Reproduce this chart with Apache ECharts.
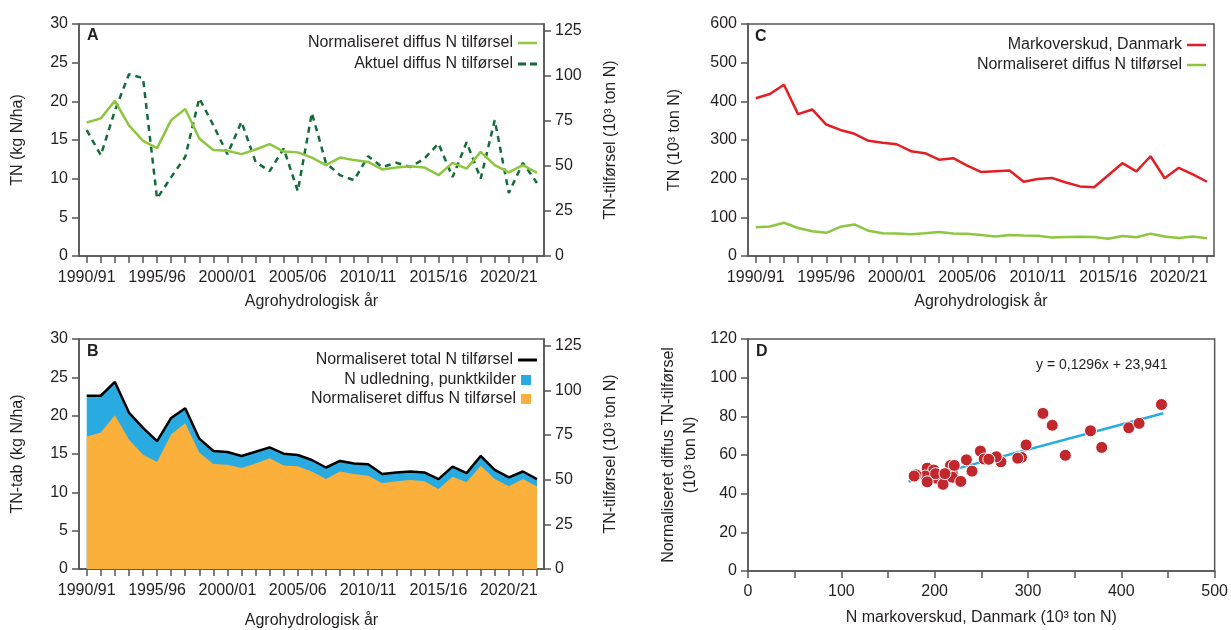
<!DOCTYPE html>
<html><head><meta charset="utf-8">
<script src="https://cdn.jsdelivr.net/npm/echarts@6/dist/echarts.min.js"></script>
<style>html,body{margin:0;padding:0;background:#fff}#c{width:1231px;height:630px}</style>
</head><body><div id="c"></div>
<script>
// ---------- data ----------
const categories = ['1990/91','1991/92','1992/93','1993/94','1994/95','1995/96','1996/97','1997/98','1998/99','1999/00',
  '2000/01','2001/02','2002/03','2003/04','2004/05','2005/06','2006/07','2007/08','2008/09','2009/10',
  '2010/11','2011/12','2012/13','2013/14','2014/15','2015/16','2016/17','2017/18','2018/19','2019/20',
  '2020/21','2021/22','2022/23'];
const yearLabelIdx = [0,5,10,15,20,25,30];
// Normaliseret diffus N tilførsel (kg N/ha)
const diffuseNorm = [17.27,17.8,20.07,16.9,14.9,13.95,17.57,19.0,15.2,13.7,13.6,13.17,13.77,14.46,13.5,13.4,12.73,11.74,12.73,12.4,
  12.17,11.19,11.45,11.6,11.45,10.45,12.04,11.3,13.47,11.74,10.8,11.74,10.75];
// Aktuel diffus N tilførsel (kg N/ha)
const diffuseActual = [16.27,13.04,18.8,23.5,23.0,7.43,10.2,12.8,20.4,16.9,13.17,17.35,12.17,10.97,13.9,8.38,18.5,12.04,10.45,9.8,
  12.9,11.5,12.05,11.5,12.6,14.55,10.2,14.7,10.0,17.57,8.16,12.04,9.45];
// Normaliseret total N tilførsel (kg N/ha)
const totalN = [22.6,22.6,24.4,20.4,18.4,16.67,19.7,20.97,17.0,15.4,15.26,14.74,15.3,15.86,15.04,14.87,14.22,13.24,14.1,13.75,
  13.67,12.38,12.6,12.72,12.6,11.73,13.36,12.5,14.74,12.94,11.95,12.72,11.73];
// Markoverskud, Danmark (10^3 ton N)
const surplus = [408,419,443,367,379,340,326,316,298,293,289,271,266,249,253,234,217,219,221,192,
  199,202,190,180,178,209,240,219,258,201,228,211,192];
const AREA = 4.29; // kg N/ha -> 10^3 ton N
const rightTicks = [0,25,50,75,100,125];
const trendSlope = 0.1296, trendIntercept = 23.941, trendX = [172, 445];
const trendText = 'y = 0,1296x + 23,941';

// ---------- style ----------
const FF = 'Liberation Sans, Arial, sans-serif';
const TXT = '#231F20';
const AX = '#555555';
const ZW = '\u200B';
const DASH_ICON = 'path://M0,0h8v1h-8z M12,0h7v1h-7z';

const chart = echarts.init(document.getElementById('c'));
const idx = categories.map((_, i) => i);
const pairs = arr => arr.map((v, i) => [i, v]);

function catX(grid, nameGap) {
  return {
    type: 'value', gridIndex: grid, min: -0.55, max: 32.5,
    axisLine: {show: true, onZero: false, lineStyle: {color: AX, width: 1.5}},
    axisTick: {show: true, customValues: idx, length: 7, lineStyle: {color: AX, width: 1.5}},
    axisLabel: {customValues: yearLabelIdx, formatter: v => categories[Math.round(v)], fontSize: 16, color: TXT, fontFamily: FF, margin: 14},
    splitLine: {show: false},
    name: 'Agrohydrologisk år', nameLocation: 'middle', nameGap: nameGap,
    nameTextStyle: {fontSize: 16, color: TXT, fontFamily: FF}
  };
}
function yAx(grid, min, max, interval, name, gap, pos, custom) {
  const o = {
    type: 'value', gridIndex: grid, min: min, max: max, position: pos || 'left',
    axisLine: {show: true, onZero: false, lineStyle: {color: AX, width: 1.5}},
    axisTick: {show: true, length: 7, lineStyle: {color: AX, width: 1.5}},
    axisLabel: {fontSize: 16, color: TXT, fontFamily: FF, margin: 11},
    splitLine: {show: false},
    name: name, nameLocation: 'middle', nameGap: gap, nameRotate: 90,
    nameTextStyle: {fontSize: 16, color: TXT, fontFamily: FF, lineHeight: 22}
  };
  if (custom) { o.axisTick.customValues = custom; o.axisLabel.customValues = custom; }
  else o.interval = interval;
  return o;
}
function lg(name, right, cy, icon, w, h) {
  return {
    data: [{name: name, icon: icon}], orient: 'vertical', align: 'right', right: right, top: cy - 8,
    itemWidth: w, itemHeight: h, symbolKeepAspect: false, selectedMode: false,
    formatter: n => n.replace(/\u200B/g, ''),
    textStyle: {fontSize: 16, color: TXT, fontFamily: FF}
  };
}

const gridBox = {show: true, borderColor: AX, borderWidth: 1.5, containLabel: false};

const option = {
  backgroundColor: '#fff',
  animation: false,
  grid: [
    Object.assign({left: 79, top: 24, width: 465, height: 232}, gridBox),
    Object.assign({left: 79, top: 339, width: 465, height: 232}, gridBox),
    Object.assign({left: 748, top: 24, width: 466, height: 232}, gridBox),
    Object.assign({left: 748, top: 339, width: 467, height: 232}, gridBox)
  ],
  xAxis: [
    catX(0, 38), catX(1, 44), catX(2, 38),
    {
      type: 'value', gridIndex: 3, min: 0, max: 500, interval: 100,
      axisLine: {show: true, onZero: false, lineStyle: {color: AX, width: 1.5}},
      axisTick: {show: true, customValues: [0,50,100,150,200,250,300,350,400,450,500], length: 7, lineStyle: {color: AX, width: 1.5}},
      axisLabel: {fontSize: 16, color: TXT, fontFamily: FF, margin: 13},
      splitLine: {show: false},
      name: 'N markoverskud, Danmark (10³ ton N)', nameLocation: 'middle', nameGap: 39,
      nameTextStyle: {fontSize: 16, color: TXT, fontFamily: FF}
    }
  ],
  yAxis: [
    yAx(0, 0, 30, 5, 'TN (kg N/ha)', 50),
    yAx(0, 0, 30 * AREA, null, 'TN-tilførsel (10³ ton N)', 56, 'right', rightTicks),
    yAx(1, 0, 30, 5, 'TN-tab (kg N/ha)', 50),
    yAx(1, 0, 30 * AREA, null, 'TN-tilførsel (10³ ton N)', 56, 'right', rightTicks),
    yAx(2, 0, 600, 100, 'TN (10³ ton N)', 62),
    yAx(3, 0, 120, 20, 'Normaliseret diffus TN-tilførsel\n(10³ ton N)', 46)
  ],
  legend: [
    lg('Normaliseret diffus N tilførsel', 689, 38, 'rect', 19, 2.5),
    lg('Aktuel diffus N tilførsel', 689, 59, DASH_ICON, 19, 3),
    lg('Normaliseret total N tilførsel', 689, 355, 'rect', 19, 3),
    lg('N udledning, punktkilder', 695, 375, 'rect', 10, 10),
    lg('Normaliseret diffus N tilførsel' + ZW, 695, 394, 'rect', 10, 10),
    lg('Markoverskud, Danmark', 20, 40, 'rect', 19, 2.5),
    lg('Normaliseret diffus N tilførsel' + ZW + ZW, 20, 60, 'rect', 19, 2.5)
  ],
  graphic: [
    {type: 'text', left: 87, top: 28, style: {text: 'A', font: 'bold 16px ' + FF, fill: TXT}},
    {type: 'text', left: 87, top: 344, style: {text: 'B', font: 'bold 16px ' + FF, fill: TXT}},
    {type: 'text', left: 755, top: 29, style: {text: 'C', font: 'bold 16px ' + FF, fill: TXT}},
    {type: 'text', left: 756, top: 344, style: {text: 'D', font: 'bold 16px ' + FF, fill: TXT}},
    {type: 'text', left: 1036, top: 358, style: {text: trendText, font: '14px ' + FF, fill: TXT}}
  ],
  series: [
    // A
    {name: 'Aktuel diffus N tilførsel', type: 'line', xAxisIndex: 0, yAxisIndex: 0, data: pairs(diffuseActual),
     symbol: 'none', color: '#146B3A', lineStyle: {color: '#146B3A', width: 2.5, type: [6, 5]}},
    {name: 'Normaliseret diffus N tilførsel', type: 'line', xAxisIndex: 0, yAxisIndex: 0, data: pairs(diffuseNorm),
     symbol: 'none', color: '#8DC63F', lineStyle: {color: '#8DC63F', width: 2.5}},
    // B
    {name: 'N udledning, punktkilder', type: 'line', xAxisIndex: 1, yAxisIndex: 2, data: pairs(totalN),
     symbol: 'none', color: '#29ABE2', lineStyle: {width: 0}, areaStyle: {color: '#29ABE2', opacity: 1}},
    {name: 'Normaliseret diffus N tilførsel' + ZW, type: 'line', xAxisIndex: 1, yAxisIndex: 2, data: pairs(diffuseNorm),
     symbol: 'none', color: '#FBB03B', lineStyle: {width: 0}, areaStyle: {color: '#FBB03B', opacity: 1}},
    {name: 'Normaliseret total N tilførsel', type: 'line', xAxisIndex: 1, yAxisIndex: 2, data: pairs(totalN),
     symbol: 'none', color: '#000', lineStyle: {color: '#000', width: 2.5}},
    // C
    {name: 'Markoverskud, Danmark', type: 'line', xAxisIndex: 2, yAxisIndex: 4, data: pairs(surplus),
     symbol: 'none', color: '#E31E24', lineStyle: {color: '#E31E24', width: 2.5}},
    {name: 'Normaliseret diffus N tilførsel' + ZW + ZW, type: 'line', xAxisIndex: 2, yAxisIndex: 4,
     data: diffuseNorm.map((v, i) => [i, v * AREA]),
     symbol: 'none', color: '#8DC63F', lineStyle: {color: '#8DC63F', width: 2.5}},
    // D
    {name: 'trend', type: 'line', xAxisIndex: 3, yAxisIndex: 5,
     data: trendX.map(x => [x, trendSlope * x + trendIntercept]),
     symbol: 'none', color: '#29ABE2', lineStyle: {color: '#29ABE2', width: 2.5}, z: 2},
    {name: 'scatter', type: 'scatter', xAxisIndex: 3, yAxisIndex: 5,
     data: surplus.map((s, i) => [s, diffuseNorm[i] * AREA]),
     symbolSize: 12, itemStyle: {color: '#C1272D', borderColor: '#fff', borderWidth: 1, opacity: 1}, z: 3}
  ]
};
chart.setOption(option);
</script>
</body></html>
